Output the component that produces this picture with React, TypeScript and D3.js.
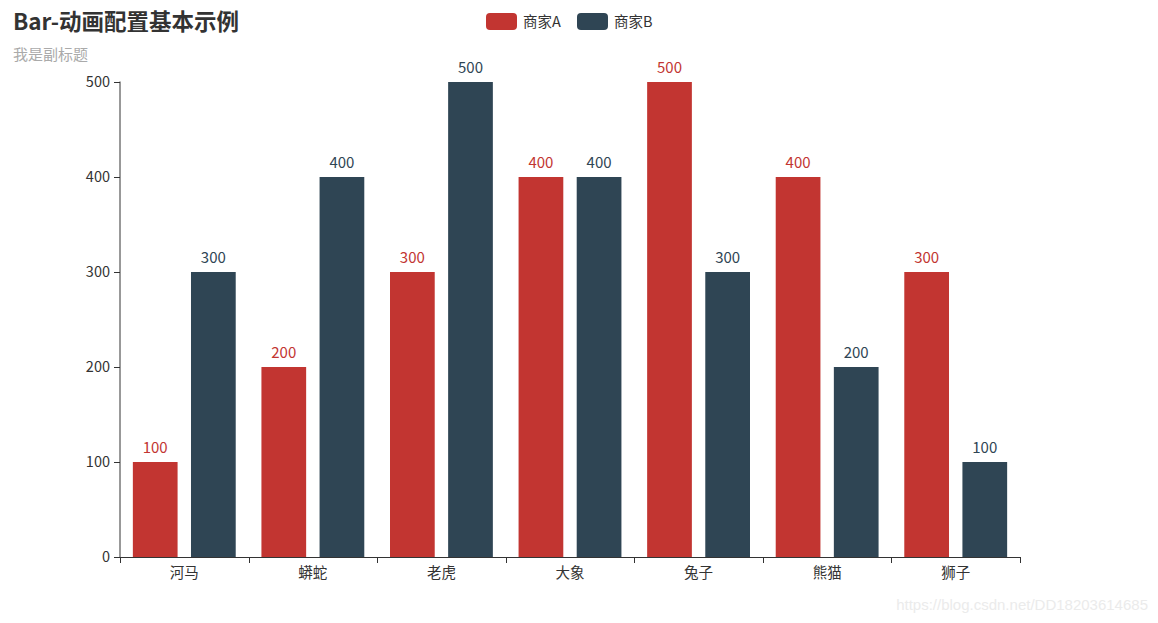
import React from "react";
import * as d3 from "d3";

const categories = ["河马", "蟒蛇", "老虎", "大象", "兔子", "熊猫", "狮子"];
const seriesNames = ["商家A", "商家B"];
const seriesA = [100, 200, 300, 400, 500, 400, 300];
const seriesB = [300, 400, 500, 400, 300, 200, 100];
const yTicks = [0, 100, 200, 300, 400, 500];
const colors = ["#c23531", "#2f4554"];

const W = 1158, H = 623;
const left = 120, right = 1020, top = 82, bottom = 557;
const FONT = "'Noto Sans CJK SC', 'Noto Sans', sans-serif";

export default function App() {
  const x = d3.scaleBand<string>().domain(categories).range([left, right]).paddingInner(0).paddingOuter(0);
  const y = d3.scaleLinear().domain([0, 500]).range([bottom, top]);
  const bw = x.bandwidth();
  const inner = bw * 0.8;
  const barW = inner / 2.3;
  const gap = barW * 0.3;
  const data = [seriesA, seriesB];

  return (
    <svg width={W} height={H} style={{ display: "block", position: "absolute", left: 0, top: 0 }} fontFamily={FONT}>
      <rect width={W} height={H} fill="#fff" />
      <text x={13} y={30} fontSize={22.5} fontWeight="bold" fill="#333">Bar-动画配置基本示例</text>
      <text x={13} y={60} fontSize={15} fill="#aaa">我是副标题</text>

      {/* legend */}
      {seriesNames.map((n, i) => {
        const lx = i === 0 ? 486 : 577;
        return (
          <g key={n}>
            <rect x={lx} y={13} width={31} height={17} rx={4} fill={colors[i]} />
            <text x={lx + 37} y={26.5} fontSize={14.5} fill="#333">{n}</text>
          </g>
        );
      })}

      {/* y axis */}
      <line x1={left} x2={left} y1={top - 0.5} y2={bottom} stroke="#333" />
      {yTicks.map(t => (
        <g key={t}>
          <line x1={left - 6} x2={left} y1={Math.round(y(t)) + 0.5} y2={Math.round(y(t)) + 0.5} stroke="#333" />
          <text x={left - 10} y={y(t)} dy="0.35em" textAnchor="end" fontSize={14.5} fill="#333">{t}</text>
        </g>
      ))}

      {/* bars */}
      {data.map((s, si) =>
        s.map((v, ci) => {
          const bx = (x(categories[ci]) as number) + bw * 0.1 + si * (barW + gap);
          return (
            <g key={si + "-" + ci}>
              <rect x={bx} y={y(v)} width={barW} height={bottom - y(v)} fill={colors[si]} />
              <text x={bx + barW / 2} y={y(v) - 9} textAnchor="middle" fontSize={15} fill={colors[si]}>{v}</text>
            </g>
          );
        })
      )}

      {/* x axis */}
      <line x1={left} x2={right} y1={bottom + 0.5} y2={bottom + 0.5} stroke="#333" />
      {d3.range(categories.length + 1).map(i => {
        const tx = Math.round(left + i * bw) + 0.5;
        return <line key={i} x1={tx} x2={tx} y1={bottom} y2={bottom + 6} stroke="#333" />;
      })}
      {categories.map(c => (
        <text key={c} x={(x(c) as number) + bw / 2} y={bottom + 21} textAnchor="middle" fontSize={14.5} fill="#333">{c}</text>
      ))}

      <text x={1148} y={610} textAnchor="end" fontSize={15} fill="#ebebeb" fontFamily="'Liberation Sans', Arial, sans-serif">https://blog.csdn.net/DD18203614685</text>
    </svg>
  );
}
